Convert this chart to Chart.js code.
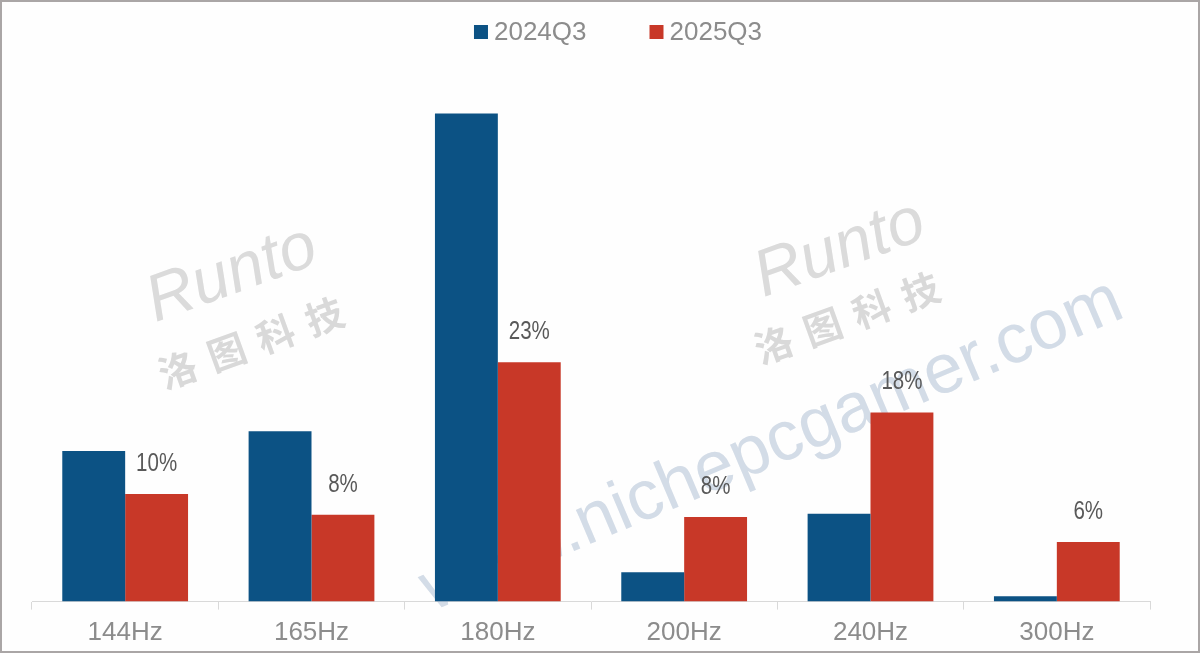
<!DOCTYPE html>
<html>
<head>
<meta charset="utf-8">
<title>Refresh rate share</title>
<script src="https://cdn.jsdelivr.net/npm/chart.js@4.4.1/dist/chart.umd.min.js"></script>
<style>
  html, body { margin: 0; padding: 0; background: #fff; }
  .frame {
    width: 1200px;
    height: 653px;
    box-sizing: border-box;
    border: 2px solid #aaa6a6;
    background: #fefefe;
  }
  canvas { display: block; }
</style>
</head>
<body>
<div class="frame">
  <canvas id="rate-chart" width="1196" height="649"></canvas>
</div>
<script>
  // 数据
  const categories = ['144Hz', '165Hz', '180Hz', '200Hz', '240Hz', '300Hz'];
  const seriesNames = ['2024Q3', '2025Q3'];
  const values2024 = [14.4, 16.3, 46.7, 2.8, 8.4, 0.5];
  const values2025 = [10.3, 8.3, 22.9, 8.1, 18.1, 5.7];
  const labels2025 = ['10%', '8%', '23%', '8%', '18%', '6%'];

  const BLUE = '#0c5284';
  const RED = '#c83828';
  const LATIN = '"Liberation Sans", Arial, sans-serif';

  // 水印 (画在柱子下面)
  const watermarkPlugin = {
    id: 'watermark',
    beforeDatasetsDraw(chart) {
      const ctx = chart.ctx;
      ctx.save();

      const logos = [
        { rx: 230, ry: 273, cx: 249, cy: 341 },
        { rx: 838, ry: 248, cx: 845, cy: 316 },
      ];
      logos.forEach((p) => {
        ctx.save();
        ctx.translate(p.rx, p.ry);
        ctx.rotate(-20 * Math.PI / 180);
        ctx.font = 'italic 66px ' + LATIN;
        ctx.fillStyle = 'rgba(190, 190, 190, 0.55)';
        ctx.textAlign = 'center';
        ctx.textBaseline = 'middle';
        ctx.fillText('Runto', 0, 0);
        ctx.restore();

        ctx.save();
        ctx.translate(p.cx, p.cy);
        ctx.rotate(-20 * Math.PI / 180);
        ctx.font = 'bold 38px "Noto Sans CJK SC", sans-serif';
        ctx.letterSpacing = '14px';
        ctx.fillStyle = 'rgba(185, 185, 185, 0.55)';
        ctx.textAlign = 'center';
        ctx.textBaseline = 'middle';
        ctx.fillText('洛图科技', 7, 0);
        ctx.restore();
      });

      ctx.translate(770, 444);
      ctx.rotate(-23 * Math.PI / 180);
      ctx.font = '70px ' + LATIN;
      ctx.fillStyle = 'rgba(175, 192, 212, 0.55)';
      ctx.textAlign = 'center';
      ctx.textBaseline = 'middle';
      ctx.fillText('www.nichepcgamer.com', 0, 0);
      ctx.restore();
    },
  };

  // 红色柱子上方的百分比 (窄体字)
  const valueLabelPlugin = {
    id: 'valueLabels',
    afterDatasetsDraw(chart) {
      const ctx = chart.ctx;
      const meta = chart.getDatasetMeta(1);
      ctx.save();
      ctx.font = '25px ' + LATIN;
      ctx.fillStyle = '#595959';
      ctx.textAlign = 'center';
      ctx.textBaseline = 'middle';
      meta.data.forEach((bar, i) => {
        ctx.save();
        ctx.translate(bar.x, bar.y - 30);
        ctx.scale(0.82, 1);
        ctx.fillText(labels2025[i], 0, 0);
        ctx.restore();
      });
      ctx.restore();
    },
  };

  // 顶部图例
  const legendPlugin = {
    id: 'topLegend',
    afterDraw(chart) {
      const ctx = chart.ctx;
      const box = 14;
      const gapText = 6;
      const gapItem = 63;
      ctx.save();
      ctx.font = '26px ' + LATIN;
      ctx.textBaseline = 'middle';
      const items = chart.data.datasets.map((ds) => ({
        label: ds.label,
        color: ds.backgroundColor,
        width: box + gapText + ctx.measureText(ds.label).width,
      }));
      const total = items.reduce((s, it) => s + it.width, 0) + gapItem * (items.length - 1);
      let x = chart.width / 2 + 18 - total / 2;
      const y = 30;
      items.forEach((it) => {
        ctx.fillStyle = it.color;
        ctx.fillRect(x, y - box / 2, box, box);
        ctx.fillStyle = '#8c8c8c';
        ctx.fillText(it.label, x + box + gapText, y + 1);
        x += it.width + gapItem;
      });
      ctx.restore();
    },
  };

  new Chart(document.getElementById('rate-chart'), {
    type: 'bar',
    data: {
      labels: categories,
      datasets: [
        {
          label: seriesNames[0],
          data: values2024,
          backgroundColor: BLUE,
          borderWidth: 0,
          categoryPercentage: 0.675,
          barPercentage: 1.0,
        },
        {
          label: seriesNames[1],
          data: values2025,
          backgroundColor: RED,
          borderWidth: 0,
          categoryPercentage: 0.675,
          barPercentage: 1.0,
        },
      ],
    },
    options: {
      responsive: false,
      animation: false,
      layout: {
        padding: { top: 77, left: 30, right: 48, bottom: -6 },
      },
      plugins: {
        legend: { display: false },
        tooltip: { enabled: false },
      },
      scales: {
        x: {
          grid: {
            display: true,
            drawOnChartArea: false,
            drawTicks: true,
            tickLength: 8,
            color: '#d9d9d9',
            offset: true,
          },
          border: { display: true, color: '#d9d9d9', width: 1 },
          ticks: {
            color: '#8c8c8c',
            font: { size: 26, family: LATIN, lineHeight: 0.9 },
            padding: 12,
          },
        },
        y: {
          display: false,
          min: 0,
          max: 50,
        },
      },
    },
    plugins: [watermarkPlugin, valueLabelPlugin, legendPlugin],
  });
</script>
</body>
</html>
